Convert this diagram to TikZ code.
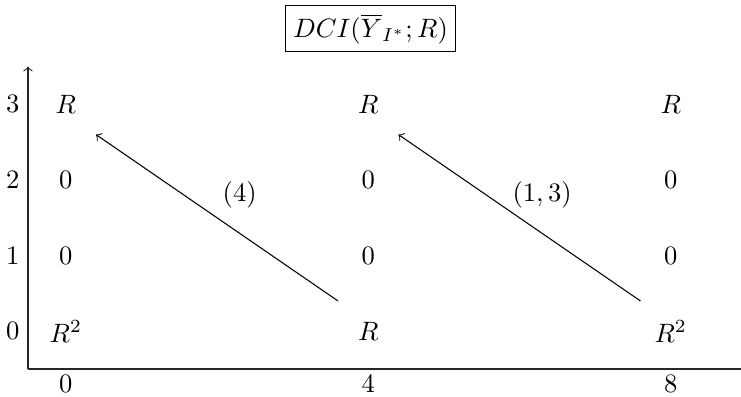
\documentclass[tikz,border=0pt]{standalone}
\usepackage{amsmath,amssymb}
\usepackage{tikz}
\usetikzlibrary{positioning,calc}

\begin{document}
\begin{tikzpicture}[
  x=1cm, y=1cm,
  entry/.style={inner sep=2pt},
  tick/.style={inner sep=2pt},
  title/.style={draw, inner sep=3pt, line width=0.4pt},
  axis/.style={->, line width=0.4pt, draw=black!85},
  diff/.style={->, line width=0.4pt}]

  \useasboundingbox (-0.87,-0.87) rectangle (8.93,4.38);

  % axes
  \coordinate (origin) at (-0.5,-0.5);
  \coordinate (ytop) at (-0.5,3.5);
  \coordinate (xend) at (9.1,-0.5);
  \draw[axis] (origin) -- (ytop);
  \draw[axis] (origin) -- (xend);

  \node[tick] (x0) at (0,-0.7) {$0$};
  \node[tick] (x4) at (4,-0.7) {$4$};
  \node[tick] (x8) at (8,-0.7) {$8$};
  \node[tick] (y0) at (-0.7,0) {$0$};
  \node[tick] (y1) at (-0.7,1) {$1$};
  \node[tick] (y2) at (-0.7,2) {$2$};
  \node[tick] (y3) at (-0.7,3) {$3$};

  % page entries
  \node[entry] (e00) at (0,0) {$R^2$};
  \node[entry] (e01) at (0,1) {$0$};
  \node[entry] (e02) at (0,2) {$0$};
  \node[entry] (e03) at (0,3) {$R$};
  \node[entry] (e40) at (4,0) {$R$};
  \node[entry] (e41) at (4,1) {$0$};
  \node[entry] (e42) at (4,2) {$0$};
  \node[entry] (e43) at (4,3) {$R$};
  \node[entry] (e80) at (8,0) {$R^2$};
  \node[entry] (e81) at (8,1) {$0$};
  \node[entry] (e82) at (8,2) {$0$};
  \node[entry] (e83) at (8,3) {$R$};

  \node[title] (dci) at (4.03,4) {$DCI(\overline{Y}_{I^*};R)$};

  % differentials
  \coordinate (d1s) at (3.6,0.4);
  \coordinate (d1t) at (0.4,2.6);
  \coordinate (d2s) at (7.6,0.4);
  \coordinate (d2t) at (4.4,2.6);
  \draw[diff] (d1s) -- (d1t);
  \draw[diff] (d2s) -- (d2t);
  \node (lab1) at (2.3,1.8) {$(4)$};
  \node (lab2) at (6.3,1.8) {$(1,3)$};
\end{tikzpicture}
\end{document}
